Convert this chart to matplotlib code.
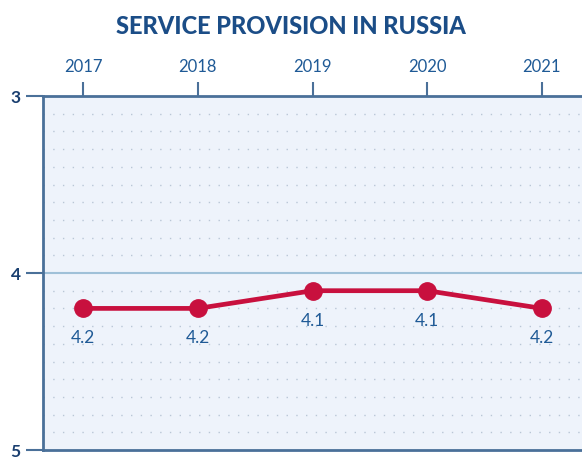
import matplotlib
matplotlib.use("Agg")
import matplotlib.pyplot as plt
import numpy as np

years = [2017, 2018, 2019, 2020, 2021]
values = [4.2, 4.2, 4.1, 4.1, 4.2]
labels = ["4.2", "4.2", "4.1", "4.1", "4.2"]
title = "SERVICE PROVISION IN RUSSIA"

plt.rcParams['font.family'] = ['Lato', 'DejaVu Sans']

fig = plt.figure(figsize=(5.82, 4.60), dpi=100)
ax = fig.add_axes([43/582, 9/460, 1 - 43/582 + 0.002, (451-97)/460])
ax.set_facecolor('#eef3fb')

spine_c = '#4a7099'
text_c = '#1f5a96'

ax.set_xlim(2016.65, 2021.36)
ax.set_ylim(5, 3)

# dotted minor grid
for yv in np.arange(3.1, 5.0, 0.1):
    if abs(yv - 4) < 1e-6:
        continue
    ax.axhline(yv, color='#b9c6d6', lw=1.0, ls=(0, (1, 6)), zorder=1)
ax.axhline(4, color='#9fc0d8', lw=1.5, zorder=1)

ax.plot(years, values, color='#c8103e', lw=3.4, marker='o', ms=12.5, zorder=3)
for x, y, t in zip(years, values, labels):
    ax.annotate(t, (x, y), xytext=(0, -29), textcoords='offset pixels',
                ha='center', va='center', fontsize=12.5, color=text_c)

ax.xaxis.tick_top()
ax.set_xticks(years)
ax.set_xticklabels([str(y) for y in years])
ax.set_yticks([3, 4, 5])
ax.set_yticklabels(['3', '4', '5'])
ax.tick_params(axis='x', top=True, bottom=False, length=10, width=1.5, color=spine_c,
               labelsize=12, labelcolor=text_c, pad=6, direction='out')
ax.tick_params(axis='y', left=True, length=12, width=1.5, color=spine_c,
               labelsize=12.5, labelcolor='#1a3f70', pad=4, direction='out')
for lbl in ax.get_yticklabels():
    lbl.set_fontweight('bold')

for s in ['top', 'left', 'bottom']:
    ax.spines[s].set_color(spine_c)
    ax.spines[s].set_linewidth(2)
ax.spines['right'].set_visible(False)

fig.text(0.5, 1 - 27/460, title, ha='center', va='center', fontsize=17,
         fontweight='black', color='#1b4d87')

fig.savefig('out.png', dpi=100, facecolor='white')
